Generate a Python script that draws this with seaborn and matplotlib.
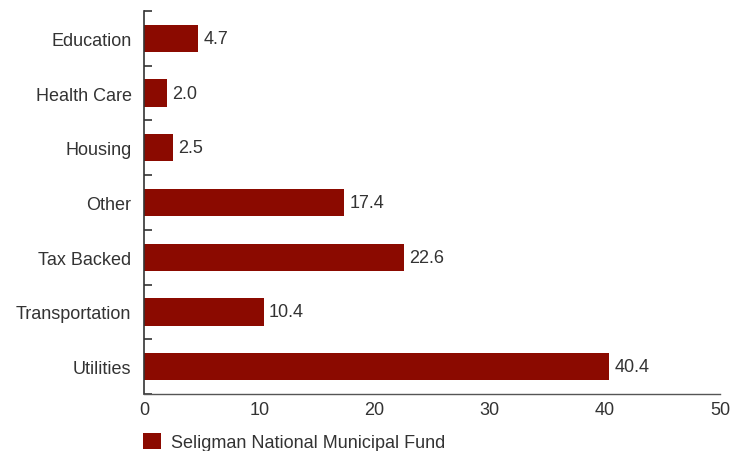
import matplotlib
matplotlib.use("Agg")
import matplotlib.pyplot as plt
import seaborn as sns
import pandas as pd
from matplotlib.patches import Patch

categories = ["Education", "Health Care", "Housing", "Other", "Tax Backed", "Transportation", "Utilities"]
values = [4.7, 2.0, 2.5, 17.4, 22.6, 10.4, 40.4]
series_name = "Seligman National Municipal Fund"
xticks = [0, 10, 20, 30, 40, 50]

sns.set_theme(style="white")
plt.rcParams['font.family'] = ['Liberation Sans', 'DejaVu Sans']

df = pd.DataFrame({"category": categories, "value": values})
color = "#8B0A00"
text_color = "#333333"
fs = 13

fig = plt.figure(figsize=(7.34, 4.52), dpi=100)
ax = fig.add_axes([144/734, 1 - 395/452, (720-144)/734, (395-12)/452])
sns.barplot(data=df, x="value", y="category", orient="h", color=color,
            width=0.5, saturation=1, linewidth=0, ax=ax)

for i, v in enumerate(values):
    ax.text(v + 0.45, i, f"{v:.1f}", va="center", ha="left", fontsize=fs, color=text_color)

ax.set_xlim(0, 50)
ax.set_ylim(len(categories) - 0.5, -0.5)
ax.set_xticks(xticks)
ax.set_xticklabels([str(t) for t in xticks])
ax.set_xlabel("")
ax.set_ylabel("")
ax.tick_params(axis="x", length=0, labelsize=fs, colors=text_color, pad=5)
ax.tick_params(axis="y", which="major", left=True, length=0, labelsize=fs, colors=text_color, pad=9)
ax.set_yticks([i - 0.5 for i in range(len(categories) + 1)], minor=True)
ax.tick_params(axis="y", which="minor", left=True, direction="in", length=6, width=1.2, color="#333333")
for s in ["top", "right"]:
    ax.spines[s].set_visible(False)
ax.spines["left"].set_color("#333333")
ax.spines["left"].set_linewidth(1.2)
ax.spines["bottom"].set_color("#555555")
ax.spines["bottom"].set_linewidth(1.0)

handle = Patch(facecolor=color, edgecolor="none", label=series_name)
fig.legend(handles=[handle], loc="lower left", bbox_to_anchor=(127/734, -0.036),
           frameon=False, fontsize=fs, handlelength=1.0, handleheight=1.0,
           handletextpad=0.55, labelcolor=text_color)

fig.savefig("out.png", dpi=100)
